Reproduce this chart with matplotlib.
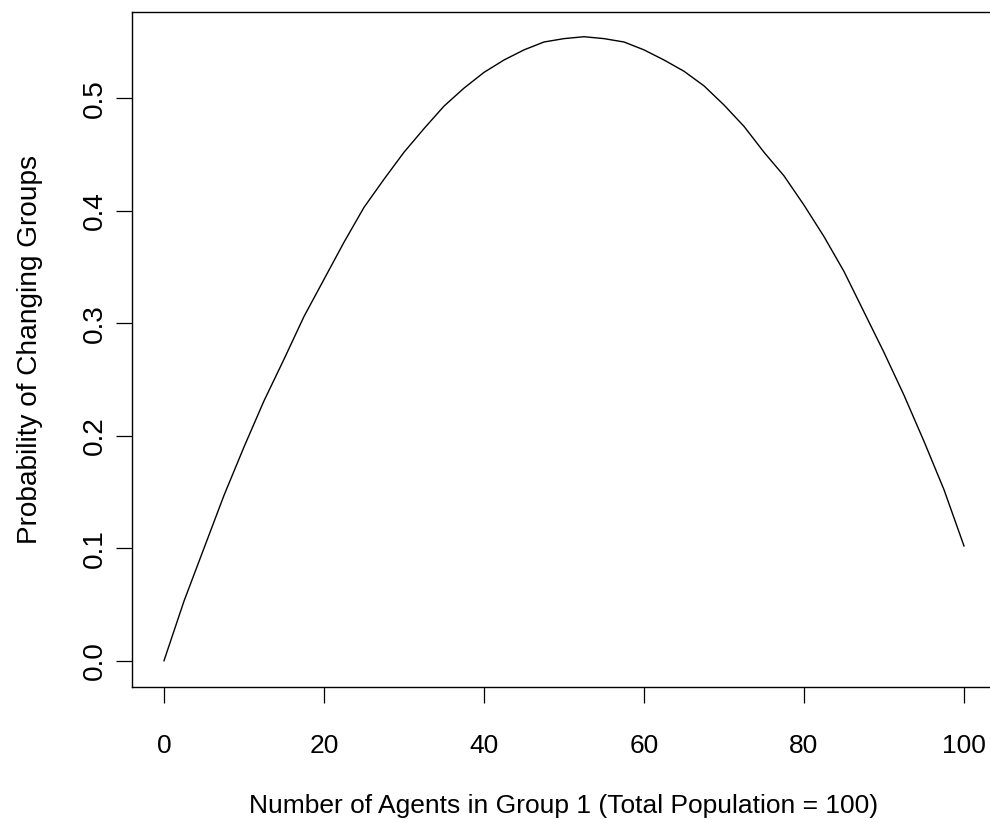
import matplotlib
matplotlib.use("Agg")
import matplotlib.pyplot as plt

# Data
agents = [0, 2.5, 5, 7.5, 10, 12.5, 15, 17.5, 20, 22.5, 25, 27.5, 30, 32.5, 35, 37.5,
          40, 42.5, 45, 47.5, 50, 52.5, 55, 57.5, 60, 62.5, 65, 67.5, 70, 72.5, 75,
          77.5, 80, 82.5, 85, 87.5, 90, 92.5, 95, 97.5, 100]
prob = [0.000, 0.053, 0.100, 0.147, 0.190, 0.231, 0.268, 0.306, 0.339, 0.372, 0.403,
        0.428, 0.452, 0.473, 0.493, 0.509, 0.523, 0.534, 0.543, 0.550, 0.553, 0.5547,
        0.553, 0.550, 0.543, 0.534, 0.524, 0.511, 0.494, 0.475, 0.452, 0.431, 0.405,
        0.377, 0.346, 0.310, 0.274, 0.236, 0.195, 0.152, 0.102]
xticks = [0, 20, 40, 60, 80, 100]
yticks = [0.0, 0.1, 0.2, 0.3, 0.4, 0.5]
xlabel = "Number of Agents in Group 1 (Total Population = 100)"
ylabel = "Probability of Changing Groups"

plt.rcParams['font.family'] = ['Liberation Sans', 'DejaVu Sans']
FSX = 19.0
FSY = 20.2

fig = plt.figure(figsize=(9.9, 8.23), dpi=100)
W, H = 990, 823
left, right, top, bottom = 132, 996, 12.3, 687.3
ax = fig.add_axes([left / W, 1 - bottom / H, (right - left) / W, (bottom - top) / H])

ax.plot(agents, prob, color='black', lw=1.0)
ax.set_xlim(-4, 104)
ax.set_ylim(-0.02364, 0.5764)
ax.set_xticks(xticks)
ax.set_xticklabels([str(t) for t in xticks], fontsize=FSX)
ax.set_yticks(yticks)
ax.set_yticklabels([f"{t:.1f}" for t in yticks], rotation=90, va='center', fontsize=FSY)
ax.tick_params(axis='both', direction='out', length=11.5, width=0.9, color='black')
ax.tick_params(axis='x', pad=22)
ax.tick_params(axis='y', pad=6)
for s in ax.spines.values():
    s.set_linewidth(1.0)
    s.set_color('black')

ax.set_xlabel(xlabel, fontsize=FSX, labelpad=26)
ax.set_ylabel(ylabel, fontsize=FSY, labelpad=28)

fig.savefig("out.png", dpi=100)
